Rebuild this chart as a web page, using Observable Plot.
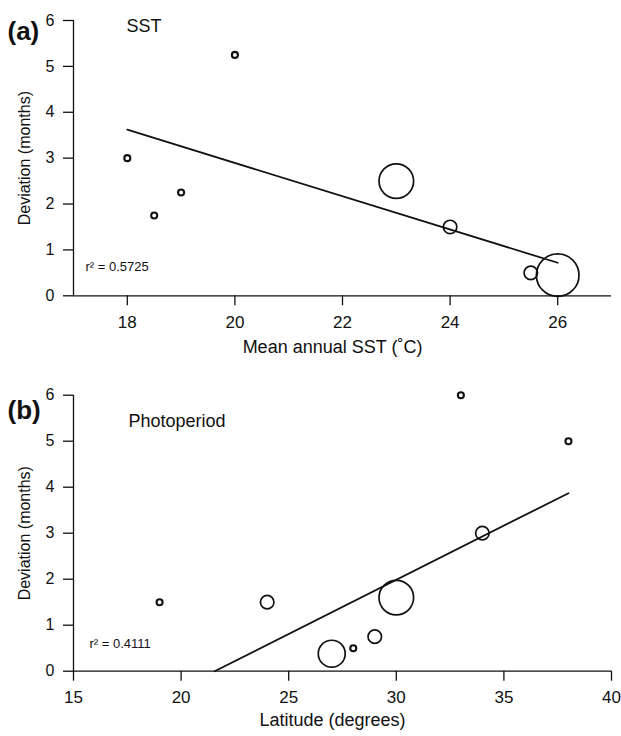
<!DOCTYPE html>
<html>
<head>
<meta charset="utf-8">
<script src="https://cdn.jsdelivr.net/npm/d3@7"></script>
<script src="https://cdn.jsdelivr.net/npm/@observablehq/plot@0.6"></script>
<style>
  html, body { margin: 0; padding: 0; background: white; }
  #chart svg { display: block; }
</style>
</head>
<body>
<div id="chart"></div>
<script>
// Panel (a): SST
const sstX = [18, 18.5, 19, 20, 23, 24, 25.5, 26];
const sstDev = [3, 1.75, 2.25, 5.25, 2.5, 1.5, 0.5, 0.45];
const sstWeight = [1, 1, 1, 1, 33, 5, 5, 50];
const sstFitX = [18, 26];
const sstFitY = [3.62, 0.72];
const sstTicks = [18, 20, 22, 24, 26];

// Panel (b): Photoperiod (latitude)
const latX = [19, 24, 27, 28, 29, 30, 33, 34, 38];
const latDev = [1.5, 1.5, 0.38, 0.5, 0.75, 1.6, 6, 3, 5];
const latWeight = [1, 5, 20, 1, 5, 33, 1, 5, 1];
const latFitX = [21.56, 38];
const latFitY = [0, 3.87];
const latTicks = [15, 20, 25, 30, 35, 40];

const yTicks = [0, 1, 2, 3, 4, 5, 6];

const FONT = "Liberation Sans, Arial, Helvetica, sans-serif";

function panel(o) {
  const pts = o.xs.map((x, i) => ({x, y: o.ys[i], w: o.ws[i]}));
  const fit = o.fx.map((x, i) => ({x, y: o.fy[i]}));
  return Plot.plot({
    width: 621,
    height: o.height,
    marginLeft: 73,
    marginRight: 10,
    marginTop: o.marginTop,
    marginBottom: o.marginBottom,
    style: {fontFamily: FONT, color: "#111", background: "white", overflow: "visible"},
    x: {domain: o.xDomain},
    y: {domain: [0, 6]},
    r: {type: "sqrt", domain: [0, 50], range: [0, 21.3]},
    marks: [
      Plot.axisY({ticks: yTicks, tickFormat: d3.format("d"), tickSize: 10, tickPadding: 9, fontSize: 16, label: null, strokeWidth: 1.3}),
      Plot.axisX({ticks: o.xTicks, tickFormat: d3.format("d"), tickSize: 10, tickPadding: 10, fontSize: 17, label: null, strokeWidth: 1.3}),
      Plot.ruleX([o.xDomain[0]], {y1: 0, y2: 6, strokeWidth: 1.3}),
      Plot.ruleY([0], {x1: o.xDomain[0], x2: o.xDomain[1], strokeWidth: 1.3}),
      Plot.line(fit, {x: "x", y: "y", strokeWidth: 1.8}),
      Plot.dot(pts, {x: "x", y: "y", r: "w", stroke: "#111", fill: "none", strokeWidth: d => d.w <= 1 ? 2.1 : 1.7}),
      Plot.text([o.tag], {frameAnchor: "top-left", textAnchor: "start", dx: -66, dy: o.tagDy, fontSize: 26, fontWeight: "bold"}),
      Plot.text([o.title], {frameAnchor: "top-left", textAnchor: "start", dx: o.titleDx, dy: o.titleDy, fontSize: 18}),
      Plot.text([o.r2], {frameAnchor: "bottom-left", textAnchor: "start", dx: o.r2Dx, dy: o.r2Dy, fontSize: 13}),
      Plot.text([o.xLabel], {frameAnchor: "bottom", textAnchor: "middle", dx: -10, dy: o.xLabelDy, fontSize: 18}),
      Plot.text(["Deviation (months)"], {frameAnchor: "left", textAnchor: "middle", dx: -49, rotate: -90, fontSize: 16})
    ]
  });
}

const chart = document.getElementById("chart");
chart.append(panel({
  xs: sstX, ys: sstDev, ws: sstWeight, fx: sstFitX, fy: sstFitY,
  xDomain: [17, 27], xTicks: sstTicks,
  height: 368, marginTop: 20, marginBottom: 72.7,
  tag: "(a)", tagDy: 1, title: "SST", titleDx: 53, titleDy: -1,
  r2: "r² = 0.5725", r2Dx: 12, r2Dy: -25,
  xLabel: "Mean annual SST (˚C)", xLabelDy: 57
}));
chart.append(panel({
  xs: latX, ys: latDev, ws: latWeight, fx: latFitX, fy: latFitY,
  xDomain: [15, 40], xTicks: latTicks,
  height: 368, marginTop: 26.7, marginBottom: 65.3,
  tag: "(b)", tagDy: 5, title: "Photoperiod", titleDx: 55, titleDy: 18.6,
  r2: "r² = 0.4111", r2Dx: 16, r2Dy: -23.5,
  xLabel: "Latitude (degrees)", xLabelDy: 54.5
}));
</script>
</body>
</html>
